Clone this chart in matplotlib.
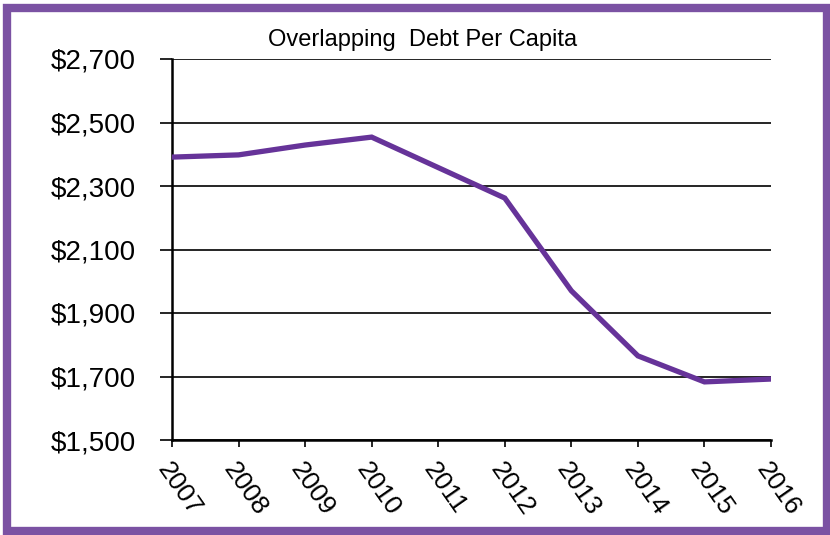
import matplotlib
matplotlib.use("Agg")
import matplotlib.pyplot as plt
from matplotlib.patches import Rectangle
from matplotlib.transforms import ScaledTranslation

years = ["2007", "2008", "2009", "2010", "2011", "2012", "2013", "2014", "2015", "2016"]
debt_per_capita = [2391, 2398, 2429, 2454, 2358, 2262, 1970, 1765, 1683, 1692]
y_ticks = [1500, 1700, 1900, 2100, 2300, 2500, 2700]
y_tick_labels = ["$1,500", "$1,700", "$1,900", "$2,100", "$2,300", "$2,500", "$2,700"]

plt.rcParams["font.family"] = ["Liberation Sans", "DejaVu Sans"]

fig = plt.figure(figsize=(8.30, 5.35), dpi=100)
ax = fig.add_axes([172 / 830, 1 - 440 / 535, (771 - 172) / 830, (440 - 59) / 535])

x = list(range(len(years)))
ax.plot(x, debt_per_capita, color="#663399", linewidth=3.8, solid_joinstyle="miter", zorder=3)

ax.set_xlim(0, len(years) - 1)
ax.set_ylim(1500, 2700)
ax.set_yticks(y_ticks)
ax.set_yticklabels(y_tick_labels, fontsize=20)
ax.set_xticks(x)
ax.set_xticklabels(years, fontsize=19, rotation=-55, ha="left", va="top",
                   rotation_mode="anchor")

for lbl in ax.get_xticklabels():
    lbl.set_transform(lbl.get_transform() + ScaledTranslation(-6 / 100, 2 / 100, fig.dpi_scale_trans))

ax.grid(axis="y", color="black", linewidth=1.2)
ax.set_axisbelow(True)
for side in ["top", "right"]:
    ax.spines[side].set_visible(False)
for side in ["left", "bottom"]:
    ax.spines[side].set_linewidth(1.8)
    ax.spines[side].set_color("black")
ax.tick_params(axis="y", direction="out", length=9, width=1.2, pad=17)
ax.tick_params(axis="x", direction="out", length=5, width=1.2, pad=8)

fig.text(423 / 830, 1 - 40 / 535, "Overlapping  Debt Per Capita", ha="center", va="center", fontsize=17)

# purple frame around the whole figure
fig.patches.append(Rectangle((7 / 830, 4 / 535), 820 / 830, 523 / 535, transform=fig.transFigure,
                             fill=False, edgecolor="#7b52a3", linewidth=6, zorder=10))

fig.savefig("out.png", dpi=100)
